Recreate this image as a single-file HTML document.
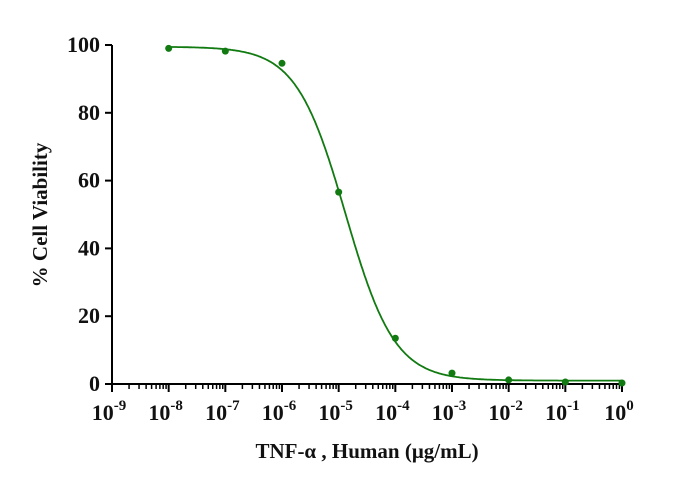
<!DOCTYPE html>
<html><head><meta charset="utf-8"><style>
body{margin:0;background:#fff}
svg text{font-family:"Liberation Serif",serif;font-weight:bold;fill:#111}
</style></head><body>
<svg width="700" height="485" xmlns="http://www.w3.org/2000/svg">
<g id="axes"></g><g id="plot"></g>
</svg>
<script>
const doseExponents=[-8,-7,-6,-5,-4,-3,-2,-1,0];
const viability=[99.0,98.2,94.6,56.6,13.5,3.2,1.2,0.6,0.3];
const fitTop=[99.5];const fitBottom=[1.0];const fitLogIC50=[-4.88];const fitHill=[1.0];
const yTicks=[0,20,40,60,80,100];
const xTickExps=[-9,-8,-7,-6,-5,-4,-3,-2,-1,0];
const NS="http://www.w3.org/2000/svg";
const X0=112,X1=622,Y0=384,Y1=45;
const xs=e=>X0+(e+9)/9*(X1-X0);
const ys=v=>Y0-v/100*(Y0-Y1);
function mk(t,a,p){const e=document.createElementNS(NS,t);for(const k in a)e.setAttribute(k,a[k]);p.appendChild(e);return e;}
const ax=document.getElementById('axes'),pl=document.getElementById('plot');
let l=mk('line',{x1:X0,y1:Y0,x2:X1,y2:Y0,stroke:'#000','stroke-width':2},ax);


l=mk('line',{x1:X0,y1:Y0+1,x2:X0,y2:Y1,stroke:'#000','stroke-width':2},ax);


yTicks.forEach(v=>{
 const t=mk('line',{x1:X0-7,y1:ys(v),x2:X0,y2:ys(v),stroke:'#000','stroke-width':2},ax);
 
 
 const tx=mk('text',{x:X0-12,y:ys(v)+7,'text-anchor':'end','font-size':22},ax);tx.textContent=v;
 
 
});
xTickExps.forEach((e,i)=>{
 const t=mk('line',{x1:xs(e),y1:Y0,x2:xs(e),y2:Y0+8,stroke:'#000','stroke-width':2},ax);
 
 
 if(i<xTickExps.length-1){for(let m=2;m<10;m++){const x=xs(e+Math.log10(m));
  const mt=mk('line',{x1:x,y1:Y0,x2:x,y2:Y0+5,stroke:'#000','stroke-width':1.5},ax);
  
  }}
 const tx=mk('text',{x:xs(e)-3,y:Y0+36,'text-anchor':'middle','font-size':22},ax);
 tx.innerHTML='10<tspan dy="-10" font-size="15">'+e+'</tspan>';
 
 
});
let tt=mk('text',{x:367,y:458,'text-anchor':'middle','font-size':21},ax);
tt.textContent='TNF-\u03b1 , Human (\u03bcg/mL)';


tt=mk('text',{x:0,y:0,'text-anchor':'middle','font-size':21,transform:'translate(47,215) rotate(-90)'},ax);
tt.textContent='% Cell Viability';


let d='';
for(let e=-8;e<=0.0001;e+=0.02){const v=fitBottom[0]+(fitTop[0]-fitBottom[0])/(1+Math.pow(10,(e-fitLogIC50[0])*fitHill[0]));d+=(d?'L':'M')+xs(e).toFixed(1)+','+ys(v).toFixed(1);}
const c=mk('path',{d:d,fill:'none',stroke:'#117a11','stroke-width':1.8},pl);


doseExponents.forEach((e,i)=>{
 const p=mk('circle',{cx:xs(e),cy:ys(viability[i]),r:3.5,fill:'#117a11'},pl);
 
 
});
</script>
</body></html>
